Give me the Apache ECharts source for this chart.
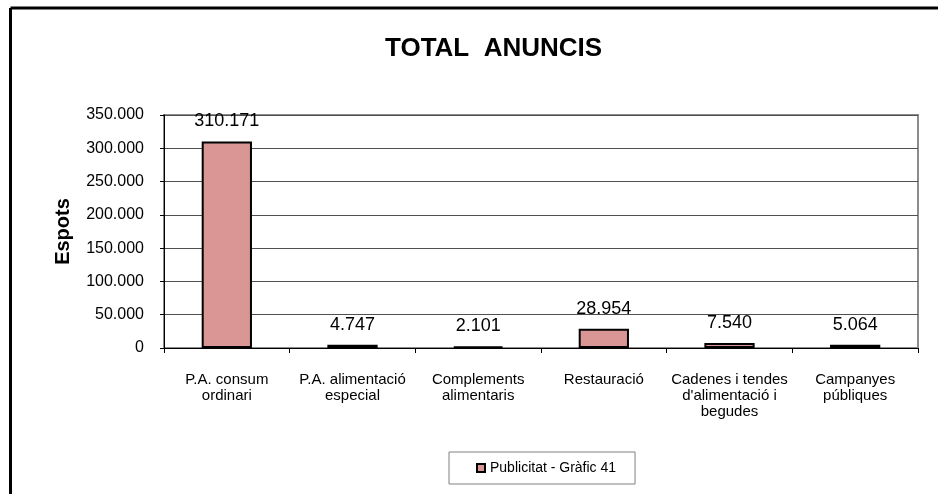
<!DOCTYPE html>
<html>
<head>
<meta charset="UTF-8">
<title>Total anuncis</title>
<script src="https://cdn.jsdelivr.net/npm/echarts@6/dist/echarts.min.js"></script>
<style>
  html, body { margin: 0; padding: 0; background: #fff; }
  #main { width: 938px; height: 494px; }
</style>
</head>
<body>
<div id="main"></div>
<script type="text/javascript">
// dades del gràfic
var categories = [
  'P.A. consum\nordinari',
  'P.A. alimentació\nespecial',
  'Complements\nalimentaris',
  'Restauració',
  'Cadenes i tendes\nd\'alimentació i\nbegudes',
  'Campanyes\npúbliques'
];
var espots = [310171, 4747, 2101, 28954, 7540, 5064];
var seriesName = 'Publicitat - Gràfic 41';

// format amb punt com a separador de milers
function fmt(v) {
  return String(v).replace(/\B(?=(\d{3})+(?!\d))/g, '.');
}

var font = '"Liberation Sans", Arial, sans-serif';
var myChart = echarts.init(document.getElementById('main'));

var option = {
  backgroundColor: '#fff',
  animation: false,
  textStyle: { fontFamily: font, color: '#000' },
  title: {
    text: 'TOTAL  ANUNCIS',
    left: 385,
    top: 36,
    padding: 0,
    textStyle: { fontFamily: font, fontSize: 26, fontWeight: 'bold', color: '#000' }
  },
  graphic: [
    { type: 'line', shape: { x1: 10.5, y1: 8, x2: 938, y2: 8 }, style: { stroke: '#000', lineWidth: 3 } },
    { type: 'line', shape: { x1: 10.5, y1: 8, x2: 10.5, y2: 494 }, style: { stroke: '#000', lineWidth: 3 } }
  ],
  legend: {
    data: [seriesName],
    left: 449,
    top: 452,
    padding: [9, 19, 9, 27],
    itemWidth: 8,
    itemHeight: 8,
    itemGap: 5,
    borderColor: '#808080',
    borderWidth: 1,
    icon: 'rect',
    textStyle: { fontFamily: font, fontSize: 14, color: '#000' }
  },
  grid: {
    left: 164,
    top: 115,
    right: 20,
    bottom: 146,
    show: true,
    borderColor: '#8c8c8c',
    borderWidth: 2
  },
  xAxis: {
    type: 'category',
    data: categories,
    axisLine: { lineStyle: { color: '#000', width: 1 } },
    axisTick: { show: true, length: 5, lineStyle: { color: '#000' } },
    axisLabel: {
      interval: 0,
      margin: 24,
      fontFamily: font,
      fontSize: 15,
      lineHeight: 16,
      color: '#000'
    }
  },
  yAxis: {
    type: 'value',
    min: 0,
    max: 350000,
    interval: 50000,
    name: 'Espots',
    nameLocation: 'middle',
    nameGap: 91,
    nameTextStyle: { fontFamily: font, fontSize: 20, fontWeight: 'bold', color: '#000' },
    axisLine: { show: true, lineStyle: { color: '#000', width: 1 } },
    axisTick: { show: true, length: 4, lineStyle: { color: '#000' } },
    axisLabel: {
      margin: 20,
      fontFamily: font,
      fontSize: 16,
      color: '#000',
      formatter: function (v) { return fmt(v); }
    },
    splitLine: { show: true, lineStyle: { color: '#505050', width: 1 } }
  },
  series: [
    {
      name: seriesName,
      type: 'bar',
      data: espots,
      barWidth: '40%',
      itemStyle: { color: '#D99694', borderColor: '#000', borderWidth: 2 },
      label: {
        show: true,
        position: 'top',
        distance: 11,
        fontFamily: font,
        fontSize: 18,
        color: '#000',
        formatter: function (p) { return fmt(p.value); }
      }
    }
  ]
};

myChart.setOption(option);
</script>
</body>
</html>
